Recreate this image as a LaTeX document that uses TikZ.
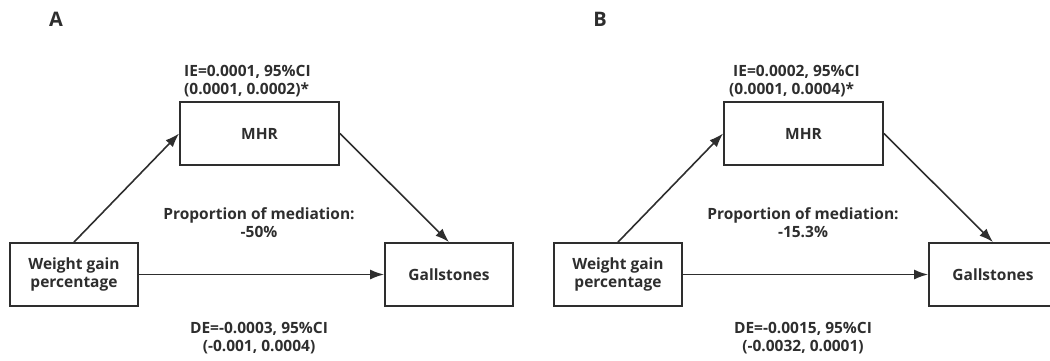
\documentclass[tikz,border=0pt]{standalone}
\usepackage{fontspec}
\setmainfont{Open Sans}
\usepackage{tikz}
\usetikzlibrary{arrows.meta}
\definecolor{ink}{HTML}{2E2E2E}

\begin{document}
\begin{tikzpicture}[x=1pt, y=-1pt, font=\bfseries\fontsize{15.5}{18}\selectfont, text=ink,
    box/.style={rectangle, draw=ink, line width=1.8pt, minimum width=#1, minimum height=63pt, align=center, inner sep=2pt},
    box/.default=128pt,
    txt/.style={align=left, inner sep=0pt},
    arr/.style={draw=ink, line width=1.6pt, -{Latex[length=14pt, width=10pt]}},
    panel/.style={font=\bfseries\fontsize{20}{22}\selectfont}]
    \useasboundingbox (0,0) rectangle (1050,360);

    \node[panel] (labA) at (56,19) {A};
    \node[box=159pt] (mhrA) at (259.5,133.5) {MHR};
    \node[box] (weightA) at (74,274.5) {Weight gain\\percentage};
    \node[box] (gallA) at (449,274.5) {Gallstones};
    \node[txt, anchor=south west] (ieA) at (184,97) {IE=0.0001, 95\%CI\\(0.0001, 0.0002)*};
    \node[txt, align=center] (propA) at (259,223) {Proportion of mediation:\\-50\%\hspace{14pt}};
    \node[txt, align=center] (deA) at (259,338) {DE=-0.0003, 95\%CI\\(-0.001, 0.0004)\hspace{12pt}};
    \draw[arr] (weightA.north) -- (mhrA.west);
    \draw[arr] (mhrA.east) -- (gallA.north);
    \draw[arr] (weightA.east) -- (gallA.west);

    \node[panel] (labB) at (600,19) {B};
    \node[box=159pt] (mhrB) at (803.5,133.5) {MHR};
    \node[box] (weightB) at (618,274.5) {Weight gain\\percentage};
    \node[box] (gallB) at (993,274.5) {Gallstones};
    \node[txt, anchor=south west] (ieB) at (729,97) {\hspace{4pt}IE=0.0002, 95\%CI\\(0.0001, 0.0004)*};
    \node[txt, align=center] (propB) at (803,223) {Proportion of mediation:\\-15.3\%\hspace{12pt}};
    \node[txt, align=center] (deB) at (803,338) {DE=-0.0015, 95\%CI\\(-0.0032, 0.0001)\hspace{6pt}};
    \draw[arr] (weightB.north) -- (mhrB.west);
    \draw[arr] (mhrB.east) -- (gallB.north);
    \draw[arr] (weightB.east) -- (gallB.west);
\end{tikzpicture}
\end{document}
